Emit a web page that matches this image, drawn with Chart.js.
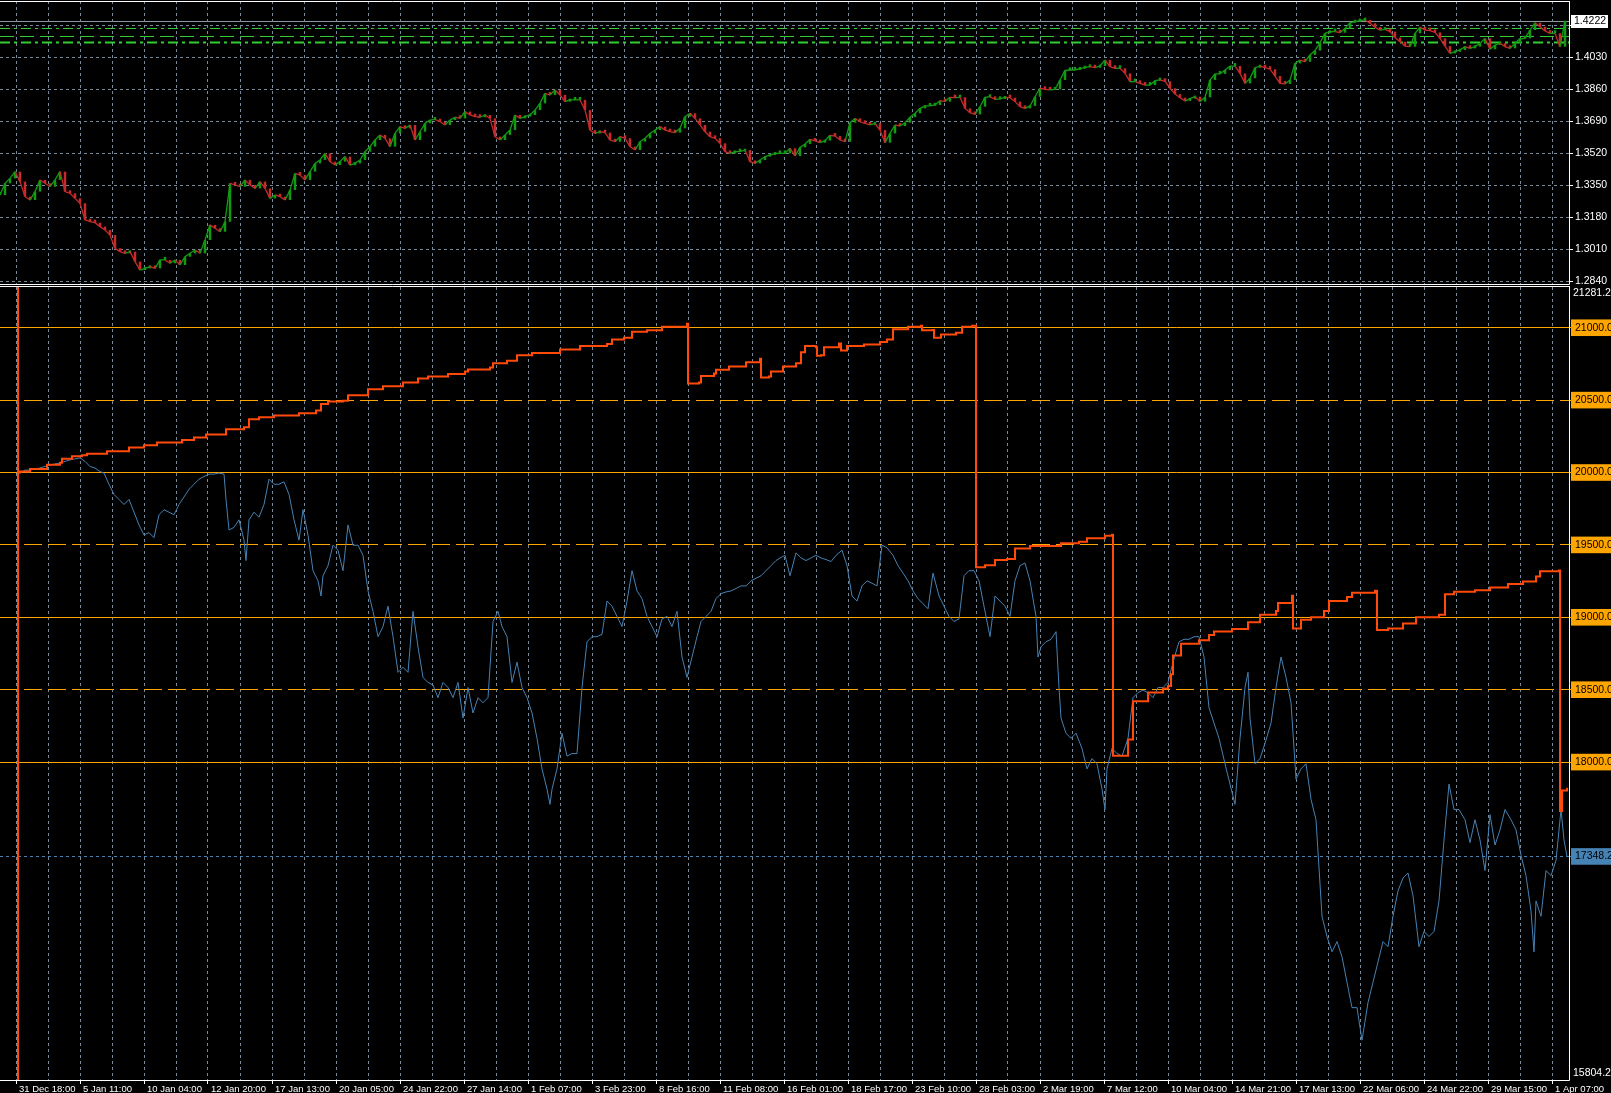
<!DOCTYPE html>
<html>
<head>
<meta charset="utf-8">
<script src="https://cdn.jsdelivr.net/npm/chart.js@4.4.1/dist/chart.umd.min.js"></script>
<style>
  html, body { margin: 0; padding: 0; background: #000; overflow: hidden; }
  #wrap { position: relative; width: 1611px; height: 1093px; background: #000; }
  canvas { position: absolute; left: 0; }
</style>
</head>
<body>
<div id="wrap">
  <canvas id="chartPrice" width="1611" height="286" style="top:0"></canvas>
  <canvas id="chartEquity" width="1611" height="807" style="top:286px"></canvas>
</div>
<script>
/* ---- data ---- */
// price pane: one close every 5 H1 bars, starting at bar 0
var priceStep = 5;
var priceClose = [
  1.3297, 1.3359, 1.3385, 1.3421, 1.3368, 1.3288, 1.3270, 1.3315, 1.3377, 1.3359,
  1.3341, 1.3377, 1.3421, 1.3315, 1.3306, 1.3279, 1.3253, 1.3164, 1.3155, 1.3150,
  1.3129, 1.3111, 1.3084, 1.3014, 1.2996, 1.2987, 1.2996, 1.2943, 1.2898, 1.2907,
  1.2916, 1.2907, 1.2952, 1.2952, 1.2934, 1.2952, 1.2925, 1.2969, 1.2987, 1.3005,
  1.2987, 1.3058, 1.3138, 1.3120, 1.3102, 1.3155, 1.3359, 1.3350, 1.3341, 1.3377,
  1.3350, 1.3332, 1.3368, 1.3332, 1.3279, 1.3297, 1.3288, 1.3270, 1.3323, 1.3412,
  1.3403, 1.3377, 1.3421, 1.3465, 1.3483, 1.3518, 1.3474, 1.3456, 1.3474, 1.3501,
  1.3456, 1.3465, 1.3483, 1.3527, 1.3554, 1.3589, 1.3616, 1.3598, 1.3554, 1.3624,
  1.3660, 1.3651, 1.3669, 1.3589, 1.3633, 1.3678, 1.3695, 1.3699, 1.3686, 1.3669,
  1.3695, 1.3710, 1.3704, 1.3740, 1.3722, 1.3713, 1.3710, 1.3722, 1.3704, 1.3607,
  1.3589, 1.3616, 1.3642, 1.3722, 1.3704, 1.3713, 1.3722, 1.3748, 1.3784, 1.3837,
  1.3828, 1.3855, 1.3828, 1.3793, 1.3802, 1.3802, 1.3802, 1.3748, 1.3642, 1.3624,
  1.3633, 1.3628, 1.3589, 1.3580, 1.3607, 1.3598, 1.3554, 1.3536, 1.3580, 1.3598,
  1.3624, 1.3642, 1.3660, 1.3642, 1.3633, 1.3628, 1.3651, 1.3713, 1.3731, 1.3704,
  1.3669, 1.3633, 1.3607, 1.3598, 1.3571, 1.3527, 1.3518, 1.3527, 1.3527, 1.3536,
  1.3474, 1.3465, 1.3483, 1.3501, 1.3509, 1.3518, 1.3518,
  1.3518, 1.3545, 1.3504, 1.3550, 1.3568, 1.3593, 1.3584, 1.3575, 1.3586, 1.3614,
  1.3610, 1.3589, 1.3580, 1.3681, 1.3704, 1.3686, 1.3678, 1.3669, 1.3678, 1.3642,
  1.3575, 1.3624, 1.3669, 1.3663, 1.3681, 1.3710, 1.3731, 1.3757, 1.3770, 1.3771,
  1.3775, 1.3798, 1.3793, 1.3816, 1.3814, 1.3816, 1.3757, 1.3734, 1.3725, 1.3766,
  1.3816, 1.3819, 1.3805, 1.3807, 1.3816, 1.3814, 1.3793, 1.3766, 1.3757, 1.3770,
  1.3819, 1.3864, 1.3858, 1.3855, 1.3858, 1.3908, 1.3959, 1.3961, 1.3961, 1.3968,
  1.3975, 1.3979, 1.3973, 1.3982, 1.4014, 1.3979, 1.3970, 1.3970, 1.3943, 1.3899,
  1.3899, 1.3890, 1.3881, 1.3881, 1.3904, 1.3908, 1.3901, 1.3864, 1.3833, 1.3814,
  1.3796, 1.3809, 1.3819, 1.3793, 1.3816, 1.3908, 1.3940, 1.3940, 1.3961, 1.3982,
  1.3982, 1.3943, 1.3890, 1.3917, 1.3973, 1.3982, 1.3973, 1.3965, 1.3929, 1.3890,
  1.3887, 1.3908, 1.3996, 1.4014, 1.4005, 1.4041, 1.4064, 1.4106, 1.4156, 1.4165,
  1.4165, 1.4159, 1.4182, 1.4212, 1.4218, 1.4223, 1.4227, 1.4209, 1.4188, 1.4173,
  1.4177, 1.4165, 1.4133, 1.4111, 1.4088, 1.4085, 1.4156, 1.4188, 1.4173, 1.4170,
  1.4161, 1.4129, 1.4088, 1.4049, 1.4058, 1.4067, 1.4085, 1.4076, 1.4085, 1.4103,
  1.4129, 1.4071, 1.4094, 1.4103, 1.4085, 1.4076, 1.4103, 1.4127, 1.4129, 1.4173,
  1.4212, 1.4191, 1.4168, 1.4156, 1.4156, 1.4085, 1.4222
];
var priceTicks = [1.2840, 1.3010, 1.3180, 1.3350, 1.3520, 1.3690, 1.3860, 1.4030, 1.4200];
var priceMin = 1.28241, priceMax = 1.43275;
var bidPrice = 1.4222;
var greenLevels = [1.4184, 1.4142, 1.4110];

// balance (bar index / value)
var balanceBar = [
  18, 20, 30, 47, 60, 62, 72, 82, 87, 107,
  129, 144, 157, 182, 194, 206, 226, 244, 249, 259,
  274, 299, 316, 321, 328, 343, 348, 368, 383, 403,
  418, 428, 448, 465, 468, 490, 493, 507, 517, 532,
  560, 580, 607, 612, 624, 632, 647, 662, 687, 688,
  699, 701, 714, 716, 729, 746, 760, 761, 769, 771,
  783, 796, 801, 805, 816, 817, 821, 824, 839, 841,
  847, 864, 880, 887, 893, 908, 921, 922, 933, 934,
  941, 956, 962, 972, 975, 976, 985, 995, 1007, 1015,
  1030, 1061, 1079, 1087, 1105, 1112, 1113, 1125, 1128, 1133,
  1148, 1163, 1168, 1171, 1173, 1181, 1199, 1209, 1214, 1232,
  1248, 1260, 1276, 1278, 1292, 1293, 1301, 1311, 1324, 1329,
  1347, 1352, 1375, 1377, 1388, 1403, 1416, 1439, 1445, 1454,
  1475, 1490, 1508, 1523, 1536, 1540, 1559, 1560, 1562, 1567
];
var balanceValue = [
  20000, 20007, 20025, 20053, 20067, 20095, 20112, 20119, 20130, 20147,
  20172, 20189, 20207, 20225, 20242, 20263, 20298, 20312, 20368, 20382,
  20393, 20410, 20428, 20474, 20491, 20495, 20533, 20575, 20596, 20621,
  20649, 20663, 20681, 20698, 20712, 20726, 20754, 20772, 20810, 20825,
  20849, 20874, 20888, 20919, 20930, 20972, 20982, 21007, 21028, 20614,
  20621, 20667, 20684, 20709, 20733, 20761, 20786, 20656, 20663, 20698,
  20732, 20754, 20831, 20873, 20866, 20806, 20810, 20866, 20891, 20842,
  20873, 20884, 20901, 20919, 20989, 21007, 21014, 20982, 20985, 20930,
  20954, 20965, 21007, 21014, 21014, 19346, 19360, 19395, 19402, 19476,
  19493, 19511, 19522, 19546, 19564, 19571, 18043, 18043, 18156, 18420,
  18480, 18508, 18525, 18606, 18737, 18818, 18842, 18877, 18902, 18920,
  18965, 19018, 19043, 19099, 19148, 18923, 18983, 19001, 19043, 19113,
  19141, 19170, 19184, 18913, 18923, 18958, 19001, 19018, 19159, 19177,
  19187, 19205, 19230, 19247, 19282, 19318, 19324, 17663, 17804, 17822
];

// equity (bar index / value)
var equityBar = [
  18,
  20, 25, 30, 35, 40, 45, 50, 55, 60, 65,
  70, 75, 80, 85, 90, 95, 100, 104, 109, 114,
  119, 124, 129, 134, 139, 144, 149, 154, 159, 164,
  169, 174, 179, 184, 189, 194, 199, 204, 209, 214,
  219, 224, 226, 229, 234, 239, 244, 246, 249, 254,
  259, 264, 269, 274, 279, 284, 289, 294, 299, 303,
  308, 313, 318, 321, 323, 328, 333, 338, 343, 348,
  353, 358, 363, 368, 373, 378, 383, 388, 393, 398,
  403, 408, 413, 418, 423, 428, 433, 438, 443, 448,
  453, 458, 463, 468, 473, 478, 483, 488, 493, 498,
  502, 507, 512, 517, 522, 527, 532, 537, 542, 547,
  550, 552, 557, 562, 567, 572, 577, 582, 587, 592,
  597, 602, 607, 612, 617, 622, 627, 632, 637, 642,
  647, 652, 657, 662, 667, 672, 677, 682, 687, 692,
  697, 701, 706, 711, 716, 721, 726, 731, 736, 741,
  746, 751, 756, 761, 766, 771, 776, 780, 785, 790,
  796, 801, 806, 811, 816, 821, 826, 831, 836, 842,
  847, 852, 857, 862, 867, 872, 877, 882, 887, 893,
  898, 903, 908, 913, 918, 923, 928, 933, 939, 944,
  949, 954, 959, 964, 969, 974, 979, 985, 990, 995,
  1000, 1005, 1010, 1015, 1020, 1025, 1030, 1036, 1038, 1041,
  1046, 1051, 1056, 1059, 1061, 1066, 1071, 1076, 1082, 1087,
  1092, 1097, 1102, 1105, 1107, 1112, 1117, 1122, 1128, 1133,
  1138, 1143, 1148, 1153, 1158, 1163, 1168, 1173, 1179, 1184,
  1189, 1194, 1199, 1204, 1209, 1214, 1219, 1225, 1230, 1235,
  1240, 1245, 1248, 1250, 1255, 1260, 1265, 1271, 1276, 1281,
  1286, 1291, 1296, 1301, 1306, 1311, 1316, 1322, 1327, 1332,
  1337, 1342, 1347, 1352, 1357, 1362, 1368, 1373, 1378, 1383,
  1388, 1393, 1398, 1403, 1408, 1413, 1419, 1424, 1429, 1434,
  1439, 1444, 1449, 1454, 1459, 1465, 1470, 1475, 1480, 1485,
  1490, 1495, 1500, 1505, 1511, 1516, 1521, 1526, 1531, 1534,
  1536, 1541, 1546, 1551, 1556, 1561, 1564, 1567
];
var equityValue = [
  20000,
  19996, 20017, 20017, 20024, 20031, 20042, 20052, 20059, 20066, 20077,
  20087, 20094, 20101, 20077, 20042, 20031, 20007, 19996, 19919, 19849,
  19814, 19779, 19814, 19726, 19638, 19568, 19585, 19550, 19708, 19743,
  19726, 19708, 19779, 19831, 19884, 19919, 19954, 19972, 19989, 19989,
  19996, 19989, 19814, 19603, 19621, 19673, 19533, 19392, 19673, 19726,
  19691, 19779, 19954, 19919, 19919, 19936, 19849, 19673, 19533, 19743,
  19568, 19322, 19252, 19147, 19287, 19357, 19498, 19463, 19322, 19638,
  19498, 19498, 19428, 19182, 19041, 18866, 18936, 19077, 18866, 18620,
  18655, 18620, 19041, 18796, 18585, 18550, 18532, 18445, 18550, 18515,
  18445, 18550, 18304, 18515, 18339, 18445, 18410, 18445, 18971, 19041,
  18936, 18866, 18550, 18690, 18515, 18445, 18339, 18164, 17953, 17813,
  17708, 17813, 17953, 18199, 18041, 18059, 18059, 18515, 18831, 18866,
  18866, 18883, 19112, 19077, 19006, 18936, 19112, 19322, 19182, 19129,
  19006, 18936, 18866, 18989, 19006, 18936, 19041, 18726, 18585, 18726,
  18866, 18971, 19006, 19041, 19129, 19164, 19175, 19182, 19199, 19217,
  19217, 19252, 19270, 19287, 19322, 19357, 19392, 19410, 19428, 19287,
  19445, 19410, 19392, 19410, 19428, 19410, 19399, 19385, 19428, 19463,
  19357, 19147, 19112, 19217, 19252, 19235, 19217, 19498, 19480, 19428,
  19357, 19305, 19252, 19182, 19129, 19094, 19059, 19305, 19147, 19077,
  19006, 18971, 18989, 19287, 19322, 19322, 19252, 19041, 18866, 19147,
  19112, 19077, 19006, 19252, 19357, 19375, 19252, 19006, 18726, 18796,
  18831, 18848, 18901, 18515, 18304, 18199, 18164, 18199, 18094, 17953,
  18024, 17988, 17813, 17672, 17953, 18094, 18059, 18041, 18164, 18445,
  18480, 18497, 18480, 18445, 18515, 18515, 18550, 18690, 18831, 18848,
  18848, 18866, 18866, 18726, 18375, 18269, 18164, 17988, 17848, 17708,
  18164, 18515, 18620, 18304, 17988, 18024, 18129, 18269, 18515, 18726,
  18585, 18410, 17883, 17953, 17988, 17743, 17602, 16935, 16795, 16690,
  16760, 16655, 16479, 16304, 16304, 16079, 16339, 16479, 16620, 16760,
  16725, 16935, 17111, 17199, 17234, 17076, 16725, 16830, 16795, 16830,
  17041, 17462, 17848, 17672, 17672, 17602, 17444, 17602, 17462, 17251,
  17637, 17427, 17532, 17672, 17602, 17532, 17357, 17216, 16971, 16690,
  17041, 16935, 17251, 17216, 17321, 17672, 17462, 17348.2
];
var equityLevels = [18000, 18500, 19000, 19500, 20000, 20500, 21000];
var equityLast = 17348.2;
var equityMin = 15804.23, equityMax = 21281.29;
var depositBar = 18;

// time axis: a label every 64 bars, a grid line every 32
var timeLabels = [
  '31 Dec 18:00', '5 Jan 11:00', '10 Jan 04:00', '12 Jan 20:00', '17 Jan 13:00',
  '20 Jan 05:00', '24 Jan 22:00', '27 Jan 14:00', '1 Feb 07:00', '3 Feb 23:00',
  '8 Feb 16:00', '11 Feb 08:00', '16 Feb 01:00', '18 Feb 17:00', '23 Feb 10:00',
  '28 Feb 03:00', '2 Mar 19:00', '7 Mar 12:00', '10 Mar 04:00', '14 Mar 21:00',
  '17 Mar 13:00', '22 Mar 06:00', '24 Mar 22:00', '29 Mar 15:00', '1 Apr 07:00'
];
var firstLabelBar = 16, gridEvery = 32, lastBar = 1569;

/* ---- colours ---- */
var GRID = '#778899';
var BULL = '#139a13', BEAR = '#c62a2a';
var LEVEL = '#ffa500', BALANCE = '#ff4a0a', EQUITY = '#4682b4', GREEN = '#32cd32';

Chart.defaults.font.family = '"Liberation Sans", Arial, sans-serif';
Chart.defaults.font.size = 10.5;

function timeGrid(scale) {
  var t = [];
  for (var i = 0; i < timeLabels.length * 2 - 1; i++) t.push({value: firstLabelBar + i * gridEvery});
  scale.ticks = t;
}

// white frame around a pane
function framePlugin(topLine) {
  return {
    id: 'frame',
    afterDraw: function (chart) {
      var c = chart.ctx, a = chart.chartArea;
      c.save();
      c.strokeStyle = '#ffffff';
      c.lineWidth = 1;
      c.beginPath();
      c.moveTo(0, topLine + 0.5); c.lineTo(a.right + 0.5, topLine + 0.5);
      c.moveTo(a.right + 0.5, topLine); c.lineTo(a.right + 0.5, a.bottom + 0.5);
      c.moveTo(0, a.bottom + 0.5); c.lineTo(a.right + 0.5, a.bottom + 0.5);
      c.stroke();
      c.restore();
    }
  };
}

/* ---- price pane ---- */
// body of each sample runs from the previous close to this close
var candles = priceClose.map(function (c, i) {
  var o = i ? priceClose[i - 1] : c;
  return {x: i * priceStep, y: [o, c]};
});
var closes = priceClose.map(function (c, i) { return {x: i * priceStep, y: c}; });

var greenStyles = [
  {dash: [10, 4, 3, 4], width: 1},
  {dash: [14, 6], width: 1},
  {dash: [10, 4, 3, 4], width: 2}
];

var priceLines = {
  id: 'priceLines',
  beforeDatasetsDraw: function (chart) {
    var c = chart.ctx, a = chart.chartArea, ys = chart.scales.y;
    c.save();
    greenLevels.forEach(function (v, i) {
      var y = Math.round(ys.getPixelForValue(v)) + 0.5;
      c.strokeStyle = GREEN;
      c.lineWidth = greenStyles[i].width;
      c.setLineDash(greenStyles[i].dash);
      c.beginPath(); c.moveTo(a.left, y); c.lineTo(a.right, y); c.stroke();
    });
    c.setLineDash([]);
    var yb = Math.round(ys.getPixelForValue(bidPrice)) + 0.5;
    c.strokeStyle = '#8c97a3';
    c.lineWidth = 1;
    c.beginPath(); c.moveTo(a.left, yb); c.lineTo(a.right, yb); c.stroke();
    c.restore();
  },
  afterDraw: function (chart) {
    var c = chart.ctx, a = chart.chartArea, ys = chart.scales.y;
    var y = Math.round(ys.getPixelForValue(bidPrice));
    c.save();
    c.fillStyle = '#ffffff';
    c.fillRect(a.right + 2, y - 6, 37, 13);
    c.fillStyle = '#000000';
    c.font = '10.5px "Liberation Sans", Arial, sans-serif';
    c.textBaseline = 'middle';
    c.fillText(bidPrice.toFixed(4), a.right + 5, y + 0.5);
    c.restore();
  }
};

function upDown(a, b) { return b >= a ? BULL : BEAR; }

new Chart(document.getElementById('chartPrice'), {
  type: 'bar',
  data: {
    datasets: [{
      type: 'line',
      data: closes,
      borderWidth: 1.3,
      pointRadius: 0,
      tension: 0,
      segment: {borderColor: function (ctx) { return upDown(ctx.p0.parsed.y, ctx.p1.parsed.y); }}
    }, {
      data: candles,
      backgroundColor: function (ctx) {
        var r = ctx.raw;
        return r ? upDown(r.y[0], r.y[1]) : BULL;
      },
      borderWidth: 0,
      borderSkipped: false,
      minBarLength: 3,
      barPercentage: 1,
      categoryPercentage: 0.5
    }]
  },
  options: {
    responsive: false,
    animation: false,
    devicePixelRatio: 1,
    layout: {padding: {top: 1, bottom: 2, left: 0, right: 0}, autoPadding: false},
    plugins: {legend: {display: false}, tooltip: {enabled: false}},
    scales: {
      x: {
        type: 'linear', min: 0, max: lastBar, offset: false,
        afterBuildTicks: timeGrid,
        afterFit: function (s) { s.height = 0; s.paddingLeft = 0; s.paddingRight = 0; },
        ticks: {display: false},
        grid: {color: GRID, drawTicks: false, offset: false},
        border: {display: false, dash: [3, 3]}
      },
      y: {
        position: 'right', min: priceMin, max: priceMax,
        afterBuildTicks: function (s) { s.ticks = priceTicks.map(function (v) { return {value: v}; }); },
        afterFit: function (s) { s.width = 42; s.paddingTop = 0; s.paddingBottom = 0; },
        ticks: {color: '#ffffff', padding: 2, autoSkip: false, callback: function (v) { return v.toFixed(4); }},
        grid: {color: GRID, tickLength: 4, tickColor: '#ffffff'},
        border: {display: false, dash: [3, 3]}
      }
    }
  },
  plugins: [priceLines, framePlugin(1)]
});

/* ---- balance / equity pane ---- */
function isLast(ctx) { return ctx.tick && ctx.tick.value === equityLast; }

var equityExtras = {
  id: 'equityExtras',
  beforeDatasetsDraw: function (chart) {
    // deposit marker
    var c = chart.ctx, a = chart.chartArea;
    var x = Math.round(chart.scales.x.getPixelForValue(depositBar));
    c.save();
    c.fillStyle = BALANCE;
    c.fillRect(x - 1, a.top, 2, a.bottom - a.top);
    c.restore();
  },
  afterDraw: function (chart) {
    var c = chart.ctx, a = chart.chartArea, ys = chart.scales.y;
    c.save();
    c.fillStyle = '#ffffff';
    c.font = '10.5px "Liberation Sans", Arial, sans-serif';
    c.textBaseline = 'middle';
    c.fillText(ys.max.toFixed(2), a.right + 4, a.top + 6);
    c.fillText(ys.min.toFixed(2), a.right + 4, a.bottom - 7);
    c.restore();
  }
};

new Chart(document.getElementById('chartEquity'), {
  type: 'line',
  data: {
    datasets: [{
      label: 'Balance',
      data: balanceBar.map(function (b, i) { return {x: b, y: balanceValue[i]}; }),
      borderColor: BALANCE,
      borderWidth: 2,
      stepped: 'before',
      pointRadius: 0
    }, {
      label: 'Equity',
      data: equityBar.map(function (b, i) { return {x: b, y: equityValue[i]}; }),
      borderColor: EQUITY,
      borderWidth: 1,
      tension: 0,
      pointRadius: 0
    }]
  },
  options: {
    responsive: false,
    animation: false,
    devicePixelRatio: 1,
    layout: {padding: {top: 1, bottom: 0, left: 0, right: 0}, autoPadding: false},
    plugins: {legend: {display: false}, tooltip: {enabled: false}},
    scales: {
      x: {
        type: 'linear', min: 0, max: lastBar, offset: false,
        afterBuildTicks: timeGrid,
        afterFit: function (s) { s.height = 13; s.paddingLeft = 0; s.paddingRight = 0; },
        ticks: {
          color: '#ffffff', autoSkip: false, maxRotation: 0, align: 'start', labelOffset: 3, padding: 0,
          font: {size: 9.5},
          callback: function (v, i) { return i % 2 ? '' : timeLabels[i / 2]; }
        },
        grid: {
          color: GRID, tickLength: 4,
          tickColor: function (ctx) { return ctx.index % 2 ? 'rgba(0,0,0,0)' : '#ffffff'; }
        },
        border: {display: false, dash: [3, 3]}
      },
      y: {
        position: 'right', min: equityMin, max: equityMax,
        afterBuildTicks: function (s) {
          s.ticks = [equityLast].concat(equityLevels).map(function (v) { return {value: v}; });
        },
        afterFit: function (s) { s.width = 42; s.paddingTop = 0; s.paddingBottom = 0; },
        ticks: {
          autoSkip: false, padding: 2, color: '#000000',
          callback: function (v) { return v.toFixed(1); },
          showLabelBackdrop: true,
          backdropColor: function (ctx) { return isLast(ctx) ? EQUITY : LEVEL; },
          backdropPadding: {left: 4, right: 12, top: 2, bottom: 2}
        },
        grid: {
          color: function (ctx) { return isLast(ctx) ? EQUITY : LEVEL; },
          tickLength: 4,
          tickColor: function (ctx) { return isLast(ctx) ? EQUITY : LEVEL; }
        },
        border: {
          display: false,
          dash: function (ctx) {
            if (!ctx.tick) return [];
            if (isLast(ctx)) return [3, 3];
            return ctx.tick.value % 1000 ? [18, 6] : [];
          }
        }
      }
    }
  },
  plugins: [equityExtras, framePlugin(0)]
});
</script>
</body>
</html>
